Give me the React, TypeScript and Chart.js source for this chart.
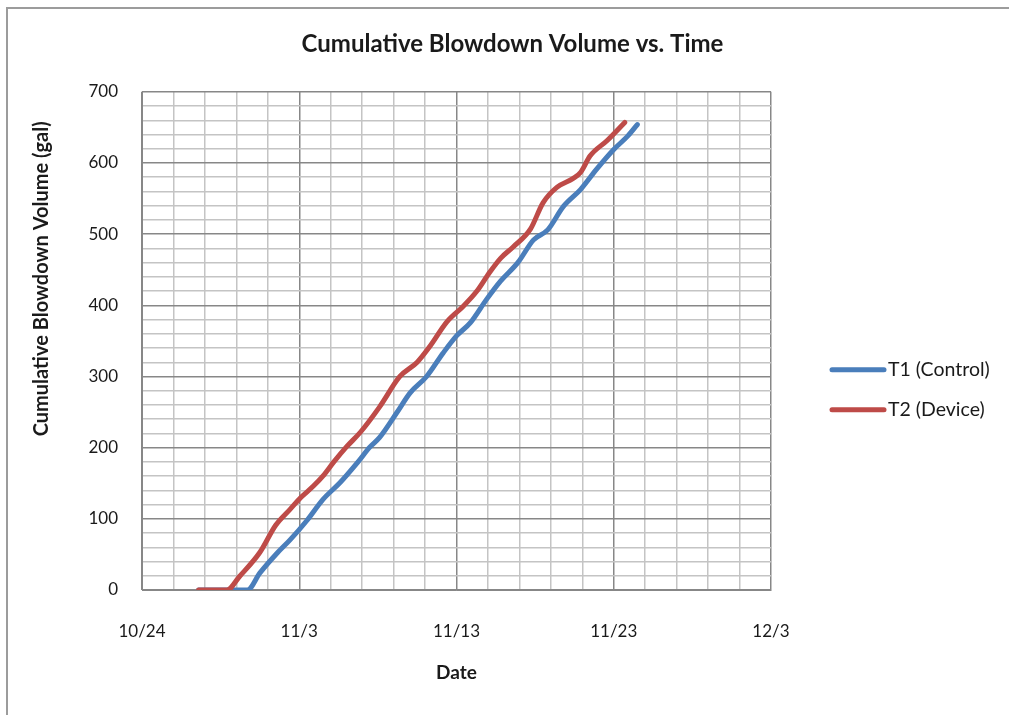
import React, { useEffect, useRef } from "react";
import { Chart, registerables } from "chart.js";

Chart.register(...registerables);

// Days elapsed since 10/24
const X_TICK_LABELS = ["10/24", "11/3", "11/13", "11/23", "12/3"];

const t1Days = [3.6, 6.7, 7.5, 8.6, 9.4, 10.5, 11.5, 12.6, 13.7, 14.5, 15.1, 16.2, 17.05, 18.1, 19.15, 20.0, 20.9, 21.9, 22.8, 23.9, 24.9, 25.8, 26.8, 27.9, 28.9, 30.0, 30.9, 31.5];
const t1Volume = [0, 0, 24, 52, 70, 98, 127, 151, 179, 201, 214, 249, 277, 300, 333, 357, 376, 408, 434, 460, 492, 506, 539, 563, 591, 619, 638, 654];

const t2Days = [3.6, 5.4, 6.2, 7.5, 8.5, 9.4, 10.1, 10.9, 11.5, 12.2, 13.0, 13.9, 15.1, 16.4, 17.5, 18.3, 19.4, 20.4, 21.3, 22.1, 22.8, 23.6, 24.7, 25.5, 26.4, 27.4, 27.9, 28.5, 29.6, 30.7];
const t2Volume = [0, 0, 19, 53, 91, 113, 130, 146, 160, 180, 201, 222, 257, 300, 320, 342, 377, 398, 420, 446, 466, 482, 507, 544, 566, 578, 587, 610, 632, 657];

const SERIES_NAMES = ["T1 (Control)", "T2 (Device)"];
const SERIES_COLORS = ["#4a7ebb", "#be4b48"];
const Y_TITLE = "Cumulative Blowdown Volume (gal)";

const FONT = "Lato, 'Open Sans', sans-serif";
const TEXT = "#1a1a1a";
const MAJOR = "#878787";
const MINOR = "#c4c4c4";

const legendPlugin = {
  id: "sideLegend",
  afterDraw(chart: any) {
    const { ctx, chartArea } = chart;
    ctx.save();
    chart.data.datasets.forEach((ds: any, i: number) => {
      const y = chartArea.top + 278 + i * 40;
      const x0 = chartArea.right + 61;
      ctx.strokeStyle = ds.borderColor;
      ctx.lineWidth = 5;
      ctx.lineCap = "round";
      ctx.beginPath();
      ctx.moveTo(x0, y);
      ctx.lineTo(x0 + 52, y);
      ctx.stroke();
      ctx.fillStyle = TEXT;
      ctx.font = `19.5px ${FONT}`;
      ctx.textBaseline = "middle";
      ctx.textAlign = "left";
      ctx.fillText(ds.label, x0 + 56, y);
    });
    ctx.restore();
  },
};

const yTitlePlugin = {
  id: "yTitle",
  afterDraw(chart: any) {
    const { ctx, chartArea } = chart;
    ctx.save();
    ctx.translate(chartArea.left - 100, chartArea.top + 187);
    ctx.rotate(-Math.PI / 2);
    ctx.fillStyle = TEXT;
    ctx.font = `bold 20px ${FONT}`;
    ctx.textAlign = "center";
    ctx.textBaseline = "middle";
    ctx.fillText(Y_TITLE, 0, 0);
    ctx.restore();
  },
};

export default function App() {
  const ref = useRef<HTMLCanvasElement>(null);
  useEffect(() => {
    const canvas = ref.current;
    if (!canvas) return;
    const chart = new Chart(canvas, {
      type: "line",
      data: {
        datasets: [
          {
            label: SERIES_NAMES[0],
            data: t1Days.map((d, i) => ({ x: d, y: t1Volume[i] })),
            borderColor: SERIES_COLORS[0],
            backgroundColor: SERIES_COLORS[0],
            borderWidth: 5,
            pointRadius: 0,
            cubicInterpolationMode: "monotone",
            borderCapStyle: "round",
            borderJoinStyle: "round",
            order: 1,
          },
          {
            label: SERIES_NAMES[1],
            data: t2Days.map((d, i) => ({ x: d, y: t2Volume[i] })),
            borderColor: SERIES_COLORS[1],
            backgroundColor: SERIES_COLORS[1],
            borderWidth: 5,
            pointRadius: 0,
            cubicInterpolationMode: "monotone",
            borderCapStyle: "round",
            borderJoinStyle: "round",
            order: 0,
          },
        ],
      },
      options: {
        animation: false,
        responsive: false,
        devicePixelRatio: 1,
        layout: { padding: { left: 16, right: 0, top: 0, bottom: 0 } },
        plugins: {
          legend: { display: false },
          tooltip: { enabled: false },
          title: {
            display: true,
            text: "Cumulative Blowdown Volume vs. Time",
            color: TEXT,
            font: { family: FONT, size: 24, weight: "bold" },
            padding: { top: 30, bottom: 33 },
          },
        },
        scales: {
          x: {
            type: "linear",
            min: 0,
            max: 40,
            border: { color: MAJOR, width: 1 },
            grid: {
              drawTicks: false,
              lineWidth: 1.5,
              color: (c: any) => (c.tick && c.tick.value % 10 === 0 ? MAJOR : MINOR),
            },
            ticks: {
              stepSize: 2,
              autoSkip: false,
              maxRotation: 0,
              padding: 31,
              color: TEXT,
              font: { family: FONT, size: 17 },
              callback: (v: any) => (v % 10 === 0 ? X_TICK_LABELS[v / 10] : ""),
            },
            title: {
              display: true,
              text: "Date",
              color: TEXT,
              font: { family: FONT, size: 19, weight: "bold" },
              padding: { top: 22, bottom: 31 },
            },
            afterFit: (s: any) => {
              s.height = 125;
            },
          },
          y: {
            min: 0,
            max: 700,
            border: { color: MAJOR, width: 1 },
            grid: {
              drawTicks: false,
              lineWidth: 1.5,
              color: (c: any) => (c.tick && c.tick.value % 100 === 0 ? MAJOR : MINOR),
            },
            ticks: {
              stepSize: 20,
              autoSkip: false,
              padding: 24,
              color: TEXT,
              font: { family: FONT, size: 17 },
              callback: (v: any) => (v % 100 === 0 ? String(v) : ""),
            },
            title: { display: false },
            afterFit: (s: any) => {
              s.width = 126;
            },
          },
          spacer: {
            type: "linear",
            position: "right",
            display: true,
            grid: { display: false, drawTicks: false },
            border: { display: false },
            ticks: { display: false },
            afterFit: (s: any) => {
              s.width = 238;
            },
          },
        },
      },
      plugins: [legendPlugin, yTitlePlugin],
    });
    return () => chart.destroy();
  }, []);

  return (
    <div style={{ position: "absolute", left: 0, top: 0, width: 1009, height: 715, overflow: "hidden", background: "#fff" }}>
      <div
        style={{
          position: "absolute",
          left: 6,
          top: 7,
          width: 1100,
          height: 800,
          borderLeft: "2px solid #9c9c9c",
          borderTop: "2px solid #9c9c9c",
        }}
      />
      <canvas ref={ref} width={1009} height={715} style={{ position: "absolute", left: 0, top: 0 }} />
    </div>
  );
}
